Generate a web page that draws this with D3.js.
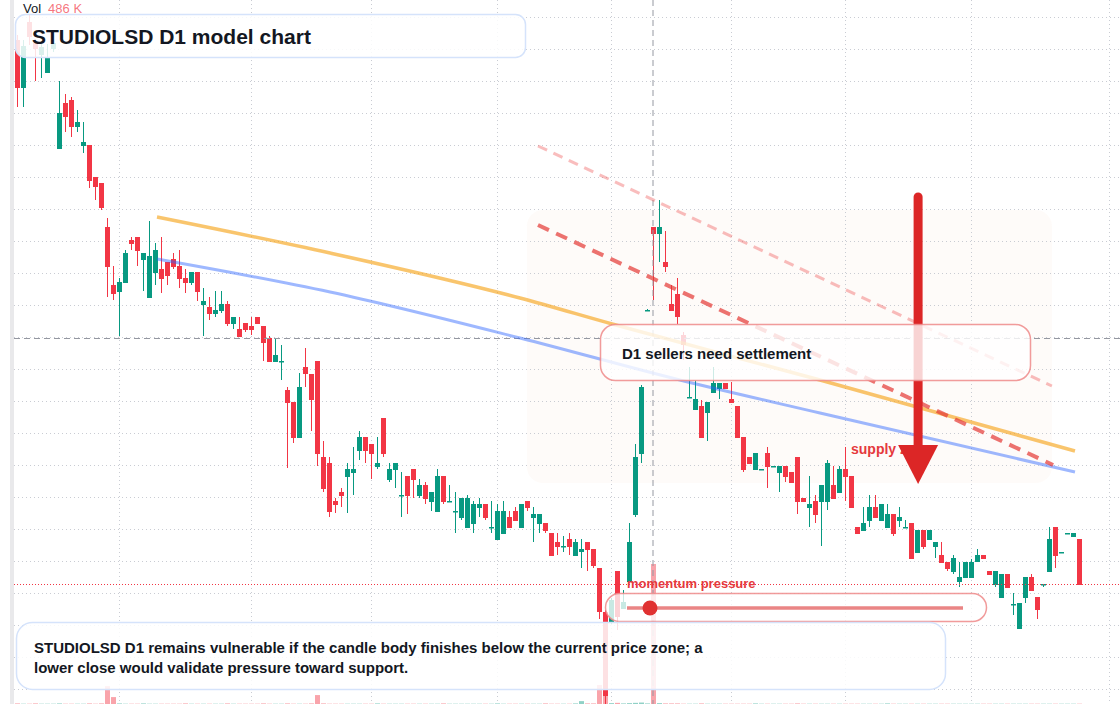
<!DOCTYPE html>
<html>
<head>
<meta charset="utf-8">
<script src="https://cdn.jsdelivr.net/npm/d3@7/dist/d3.min.js"></script>
<style>
  html, body { margin: 0; padding: 0; background: #fff; overflow: hidden; }
  svg { display: block; font-family: "Liberation Sans", Arial, sans-serif; }
</style>
</head>
<body>
<div id="chart"></div>
<script>
// Daily candles, index 0..177
const opens = [
  348.5, 324.5, 357.5, 347, 341, 332, 344, 294, 317, 318.5,
  305, 295.5, 296, 280, 277, 255, 226, 222.5, 227, 248.5,
  250, 238.5, 219.5, 232, 234, 237.5, 239, 235.5, 229.5, 227,
  232.5, 216, 215, 211.5, 213, 216.5, 206.5, 204, 207, 205.5,
  210, 205.5, 199.5, 187.5, 188, 173.5, 167.5, 149.5, 185, 181.5,
  188, 140, 137, 118, 122.5, 130, 132, 143, 150, 146.5,
  135, 159.5, 128.5, 133.5, 121, 130.5, 134, 120.5, 126, 117.5,
  112.5, 130.5, 118, 113, 109.5, 104.5, 106.5, 114.5, 116.5, 105,
  98.5, 101.5, 110, 113, 104.5, 118, 109.5, 106.5, 107, 102,
  97.5, 95.5, 99, 90.5, 92.5, 97.5, 94, 84.5, 62.5, 57.5,
  83, 64, 77.5, 111, 141.5, 213.5, 255, 251.5, 237.5, 216.5,
  221.5, 201, 170, 163.5, 165.5, 162, 172, 174, 177, 169,
  165.5, 150, 140, 133.5, 134, 142, 135.5, 132, 135.5, 132.5,
  140, 119.5, 114.5, 118, 117.5, 117.5, 126, 122, 134, 130.5,
  105, 103, 108, 115, 108, 104.5, 111.5, 108, 105, 107,
  92, 103.5, 98.5, 95, 91, 87.5, 82.5, 77.5, 79.5, 79.5,
  87.5, 91, 83, 76, 69.5, 81.5, 66.5, 54, 69.5, 80,
  70, 76.5, 82.5, 105, 92.5, 102, 100, 99
];
const highs = [
  351, 348.5, 361.5, 348.5, 347, 346.5, 348.5, 328, 321.5, 320,
  313.5, 307.5, 296, 280, 277, 259.5, 235.5, 229.5, 243.5, 250,
  250, 242, 258, 247, 250, 237.5, 242, 243.5, 234, 232.5,
  232.5, 224.5, 220, 223, 223, 218, 210, 210, 207, 210,
  210, 205.5, 200.5, 199, 196, 175, 167.5, 182, 194.5, 181.5,
  188, 148, 140, 119.5, 124.5, 137, 145, 153, 150, 146.5,
  150, 159.5, 137, 137, 132.5, 130.5, 134, 129, 127.5, 122.5,
  134, 130.5, 126, 122.5, 119.5, 121, 118, 119.5, 116.5, 118,
  116.5, 118, 113, 115, 116.5, 118, 115, 111.5, 107, 102,
  102, 100.5, 102, 99, 99, 97.5, 94, 84.5, 63.5, 69.5,
  83, 73.5, 107, 146.5, 176, 214, 255, 268.5, 253, 226,
  229.5, 202.5, 185, 178.5, 168.5, 167.5, 185, 177, 177, 177.5,
  165.5, 150, 140, 142, 134, 145, 135.5, 135.5, 135.5, 132.5,
  140, 119.5, 130.5, 121, 126, 138.5, 135.5, 135.5, 145, 130.5,
  105, 115, 121, 121, 116.5, 116.5, 111.5, 115, 108.5, 107,
  103.5, 103.5, 103.5, 97.5, 97.5, 87.5, 91, 87.5, 87.5, 89,
  94, 91, 83, 83, 81.5, 81.5, 72, 67, 80, 81.5,
  70, 76.5, 105, 105, 92.5, 102, 102, 99
];
const lows = [
  315, 315, 346, 328, 329.5, 332, 342.5, 294, 302.5, 300,
  302.5, 292, 274.5, 268.5, 263.5, 220, 218.5, 200.5, 227, 243.5,
  235.5, 223, 219.5, 226, 222, 226, 234, 224.5, 222, 226,
  218, 200.5, 208.5, 210, 212, 205.5, 204, 200, 202.5, 201,
  206.5, 188, 187.5, 187.5, 178.5, 134.5, 147, 149.5, 175, 153,
  135.5, 122.5, 110, 112, 115, 112, 121, 138.5, 137, 129,
  134, 140, 127.5, 124.5, 110, 111.5, 119.5, 119.5, 116.5, 113,
  112.5, 116.5, 118, 102, 108.5, 104.5, 102, 110, 108.5, 102,
  98.5, 101.5, 104.5, 108, 104.5, 113, 97.5, 102, 102, 90.5,
  91, 92.5, 91, 90.5, 84.5, 83, 84.5, 59, 12.5, 56.5,
  53.5, 64, 77.5, 110, 137, 213, 218.5, 237.5, 232.5, 213,
  206.5, 188.5, 170, 163.5, 149.5, 148, 172, 169, 174, 167,
  149.5, 132.5, 136.5, 133.5, 134, 124.5, 135.5, 122.5, 127.5, 127,
  111.5, 117.5, 105, 107, 95.5, 113.5, 119, 122, 118, 114.5,
  101.5, 103, 105, 109.5, 108, 104.5, 100.5, 105, 105, 89,
  92, 94, 98.5, 89.5, 87, 83, 81.5, 75, 79.5, 79.5,
  87.5, 89, 81, 75, 69.5, 74.5, 61, 54, 67, 73,
  59, 75, 82.5, 84.5, 92.5, 102, 100, 76
];
const closes = [
  324.5, 345.5, 350, 344, 345, 340, 347, 312, 310, 305,
  307.5, 297.5, 278, 275, 264.5, 235, 221.5, 227.5, 242, 246.5,
  243, 242, 240.5, 243.5, 229, 230.5, 235, 229, 227, 232.5,
  222.5, 218, 211.5, 213.5, 216.5, 206.5, 210, 200, 203.5, 203.5,
  206.5, 197, 187.5, 191, 188, 167, 149.5, 175, 181.5, 168.5,
  141.5, 124, 112.5, 116, 120.5, 134, 134, 150, 143, 141.5,
  137, 141.5, 134, 137, 121, 120.5, 128.5, 126, 119, 122.5,
  130.5, 117.5, 118, 113, 119.5, 119.5, 116.5, 116.5, 109.5, 105,
  113, 113, 104.5, 108, 116.5, 114.5, 111.5, 111.5, 103, 90.5,
  95, 95.5, 95, 97.5, 94, 93.5, 85.5, 62.5, 20.5, 68.5,
  60, 67.5, 97.5, 140, 175, 213.5, 251.5, 255, 235, 213,
  210, 196, 170, 169, 149.5, 167.5, 177, 177, 174, 167,
  149.5, 133.5, 136.5, 142, 134, 135, 135.5, 135.5, 130, 127,
  117.5, 117.5, 116.5, 111, 126, 137, 119, 134, 130, 114.5,
  101.5, 107, 115, 109.5, 116.5, 111.5, 101.5, 110, 105, 89,
  103.5, 95, 103.5, 97.5, 87, 84, 89.5, 80, 87.5, 87.5,
  91, 89, 81, 83, 81.5, 74.5, 66.5, 67, 80, 73,
  63.5, 76.5, 99, 90.5, 92.5, 102, 102, 76
];
// volume in thousands
const volumes = [
  2, 1, 1, 2, 1, 1, 1, 2, 1, 1,
  1, 1, 2, 1, 2, 62, 24, 2, 1, 1,
  1, 2, 1, 1, 1, 1, 1, 1, 2, 1,
  1, 1, 1, 1, 1, 2, 1, 1, 1, 1,
  1, 2, 1, 1, 1, 2, 1, 1, 1, 2,
  31, 2, 1, 1, 1, 1, 1, 1, 1, 1,
  2, 1, 1, 1, 1, 1, 1, 1, 1, 1,
  1, 2, 1, 1, 1, 1, 1, 1, 1, 1,
  2, 1, 1, 1, 1, 1, 1, 1, 2, 1,
  1, 1, 1, 2, 10, 2, 2, 66, 190, 3,
  4, 2, 3, 4, 5, 2, 486, 3, 2, 2,
  2, 1, 1, 1, 2, 1, 1, 1, 1, 1,
  1, 1, 1, 2, 1, 1, 1, 1, 1, 1,
  2, 1, 1, 1, 1, 1, 1, 1, 1, 1,
  1, 1, 1, 1, 1, 2, 1, 1, 1, 1,
  1, 1, 1, 1, 1, 1, 1, 1, 1, 1,
  1, 1, 1, 1, 1, 1, 1, 1, 1, 1,
  1, 1, 1, 1, 1, 1, 1, 1
];

// Grid
const gridPrices = [360, 344, 328, 312, 296, 280, 264, 248, 232, 216, 200, 184, 168, 152, 136, 120, 104, 88, 72, 56, 40, 24];
const gridIdx = [17, 39, 59, 80, 99, 119, 138, 159, 182];

// Crosshair
const crossIdx = 106;
const crossPrice = 199.5;

// Trend lines (candle index, price)
const orangeIdx = [23.25, 52.1, 83.75, 99.1, 133.75, 176.25];
const orangePrice = [260, 242, 219.5, 206.5, 178.5, 143];
const blueIdx = [23.25, 52.1, 83.75, 110.4, 133.75, 176.25];
const bluePrice = [239, 222.5, 199.5, 178.5, 162, 132.5];
const sellerIdx = [86.75, 172.6];
const sellerPrice = [256, 136];
const upperIdx = [86.75, 172.4];
const upperPrice = [295.5, 175.5];

// Supply zone and arrow
const zoneIdx = [84.9, 172.4];
const zonePrice = [263.5, 127];
const arrowIdx = 150.1;
const arrowPrice = [272, 146, 126.5];

// Texts
const titleText = "STUDIOLSD D1 model chart";
const calloutText = "D1 sellers need settlement";
const zoneText = "supply zone";
const momentumText = "momentum pressure";
const noteLines = [
  "STUDIOLSD D1 remains vulnerable if the candle body finishes below the current price zone; a",
  "lower close would validate pressure toward support."
];

document.addEventListener("DOMContentLoaded", function() {
    const W = 1120, H = 704;
    const left = 14;
    const up = "#089981", down = "#f23645";

    const svg = d3.select("#chart").append("svg")
        .attr("width", W)
        .attr("height", H);

    svg.append("rect").attr("width", W).attr("height", H).attr("fill", "#fff");

    // Scales
    const x = d3.scaleLinear().domain([0, 177]).range([17.5, 1079.5]);
    const y = d3.scaleLinear().domain([368.5, 16.5]).range([0, H]);
    const v = d3.scaleLinear().domain([0, 486]).range([H, 564]);

    svg.append("defs").append("clipPath").attr("id", "plot")
        .append("rect").attr("x", left).attr("y", 0).attr("width", W - left).attr("height", H);

    // left strip
    svg.append("rect").attr("x", 10).attr("y", 0).attr("width", 4).attr("height", H).attr("fill", "#e9e9eb");

    const plot = svg.append("g").attr("clip-path", "url(#plot)");

    // Supply zone
    plot.append("rect")
        .attr("x", x(zoneIdx[0]))
        .attr("y", y(zonePrice[0]))
        .attr("width", x(zoneIdx[1]) - x(zoneIdx[0]))
        .attr("height", y(zonePrice[1]) - y(zonePrice[0]))
        .attr("rx", 16)
        .attr("fill", "#fbe9dc")
        .attr("opacity", 0.18);

    // Grid
    plot.selectAll(".hgrid").data(gridPrices).enter().append("line")
        .attr("x1", left).attr("x2", W)
        .attr("y1", d => Math.round(y(d)) + 0.5)
        .attr("y2", d => Math.round(y(d)) + 0.5)
        .attr("stroke", "#c9ccd3")
        .attr("stroke-dasharray", "1 3");
    plot.selectAll(".vgrid").data(gridIdx).enter().append("line")
        .attr("x1", d => x(d)).attr("x2", d => x(d))
        .attr("y1", 0).attr("y2", H)
        .attr("stroke", "#c9ccd3")
        .attr("stroke-dasharray", "1 3");

    const idx = d3.range(opens.length);
    const colorOf = i => closes[i] >= opens[i] ? up : down;

    // Volume
    plot.selectAll(".vol").data(idx).enter().append("rect")
        .attr("x", i => x(i) - 2.5)
        .attr("width", 5)
        .attr("y", i => v(volumes[i]))
        .attr("height", i => H - v(volumes[i]))
        .attr("fill", colorOf)
        .attr("opacity", 0.45);

    // Candles
    const candles = plot.selectAll(".candle").data(idx).enter().append("g");
    candles.append("line")
        .attr("x1", i => x(i)).attr("x2", i => x(i))
        .attr("y1", i => y(highs[i])).attr("y2", i => y(lows[i]))
        .attr("stroke", colorOf)
        .attr("stroke-width", 1);
    candles.append("rect")
        .attr("x", i => x(i) - 2.5)
        .attr("width", 5)
        .attr("y", i => y(Math.max(opens[i], closes[i])))
        .attr("height", i => Math.max(1.5, Math.abs(y(opens[i]) - y(closes[i]))))
        .attr("fill", colorOf);

    // Crosshair and last price line
    plot.append("line")
        .attr("x1", left).attr("x2", W)
        .attr("y1", y(crossPrice) + 0.5).attr("y2", y(crossPrice) + 0.5)
        .attr("stroke", "#9598a1").attr("stroke-dasharray", "6 4");
    plot.append("line")
        .attr("x1", x(crossIdx) - 0.5).attr("x2", x(crossIdx) - 0.5)
        .attr("y1", 0).attr("y2", H)
        .attr("stroke", "#9598a1").attr("stroke-dasharray", "6 4");
    const last = closes[closes.length - 1];
    plot.append("line")
        .attr("x1", left).attr("x2", W)
        .attr("y1", y(last) - 0.5).attr("y2", y(last) - 0.5)
        .attr("stroke", down).attr("stroke-dasharray", "1 2");

    // Trend lines
    const curve = d3.line().curve(d3.curveMonotoneX);
    plot.append("path")
        .attr("d", curve(orangeIdx.map((d, k) => [x(d), y(orangePrice[k])])))
        .attr("fill", "none").attr("stroke", "#f59e0b")
        .attr("stroke-width", 3.5).attr("opacity", 0.6);
    plot.append("path")
        .attr("d", curve(blueIdx.map((d, k) => [x(d), y(bluePrice[k])])))
        .attr("fill", "none").attr("stroke", "#2962ff")
        .attr("stroke-width", 3).attr("opacity", 0.45);
    plot.append("line")
        .attr("x1", x(upperIdx[0])).attr("y1", y(upperPrice[0]))
        .attr("x2", x(upperIdx[1])).attr("y2", y(upperPrice[1]))
        .attr("stroke", "#ef4444").attr("stroke-width", 3)
        .attr("stroke-dasharray", "10 7").attr("opacity", 0.35);
    plot.append("line")
        .attr("x1", x(sellerIdx[0])).attr("y1", y(sellerPrice[0]))
        .attr("x2", x(sellerIdx[1])).attr("y2", y(sellerPrice[1]))
        .attr("stroke", "#e53935").attr("stroke-width", 4)
        .attr("stroke-dasharray", "12 8").attr("opacity", 0.7);

    // Supply zone label and arrow
    svg.append("text")
        .attr("x", 851).attr("y", 454)
        .attr("font-size", 14).attr("font-weight", "bold")
        .attr("fill", "#e5393d")
        .text(zoneText);

    const ax = x(arrowIdx);
    svg.append("line")
        .attr("x1", ax).attr("x2", ax)
        .attr("y1", y(arrowPrice[0]) + 4).attr("y2", y(arrowPrice[1]) + 2)
        .attr("stroke", "#dc2626").attr("stroke-width", 9)
        .attr("stroke-linecap", "round");
    svg.append("path")
        .attr("d", `M${ax - 20},${y(arrowPrice[1])} L${ax + 20},${y(arrowPrice[1])} L${ax},${y(arrowPrice[2])} Z`)
        .attr("fill", "#dc2626");

    // Callout
    svg.append("rect")
        .attr("x", 600.5).attr("y", 324.5).attr("width", 430).attr("height", 56)
        .attr("rx", 15)
        .attr("fill", "#fff").attr("fill-opacity", 0.8)
        .attr("stroke", "#ee8a8a").attr("stroke-width", 1.5).attr("stroke-opacity", 0.85);
    svg.append("text")
        .attr("x", 622).attr("y", 359)
        .attr("font-size", 15).attr("font-weight", "bold")
        .attr("fill", "#131722")
        .text(calloutText);

    // Momentum slider
    svg.append("text")
        .attr("x", 627).attr("y", 588)
        .attr("font-size", 13).attr("font-weight", "bold")
        .attr("fill", "#e5393d")
        .text(momentumText);
    svg.append("rect")
        .attr("x", 605.5).attr("y", 593.5).attr("width", 381).attr("height", 28)
        .attr("rx", 14)
        .attr("fill", "#fff").attr("fill-opacity", 0.78)
        .attr("stroke", "#ee8a8a").attr("stroke-width", 1.5).attr("stroke-opacity", 0.85);
    svg.append("line")
        .attr("x1", 627).attr("x2", 963).attr("y1", 608).attr("y2", 608)
        .attr("stroke", "#e35d5d").attr("stroke-width", 3.5).attr("opacity", 0.75);
    svg.append("circle")
        .attr("cx", 650).attr("cy", 608).attr("r", 7.5)
        .attr("fill", "#e03131");

    // Note box
    svg.append("rect")
        .attr("x", 16.5).attr("y", 622.5).attr("width", 929).attr("height", 67)
        .attr("rx", 16)
        .attr("fill", "#fff").attr("fill-opacity", 0.85)
        .attr("stroke", "#d5e3fb").attr("stroke-width", 1.5);
    svg.append("g").selectAll("text").data(noteLines).enter().append("text")
        .attr("x", 34).attr("y", (d, k) => 653 + k * 20)
        .attr("font-size", 15).attr("font-weight", "bold")
        .attr("fill", "#131722")
        .text(d => d);

    // Title box
    svg.append("rect")
        .attr("x", 15.5).attr("y", 14.5).attr("width", 510).attr("height", 43)
        .attr("rx", 10)
        .attr("fill", "#fff").attr("fill-opacity", 0.85)
        .attr("stroke", "#d5e3fb").attr("stroke-width", 1.5);
    svg.append("text")
        .attr("x", 32).attr("y", 43.5)
        .attr("font-size", 21).attr("font-weight", "bold")
        .attr("fill", "#131722")
        .text(titleText);

    // Volume legend
    const legend = svg.append("text").attr("x", 23).attr("y", 13).attr("font-size", 13);
    legend.append("tspan").attr("fill", "#131722").text("Vol");
    legend.append("tspan").attr("dx", 7).attr("fill", "#f23645").attr("fill-opacity", 0.7)
        .text(volumes[crossIdx] + " K");
});
</script>
</body>
</html>
